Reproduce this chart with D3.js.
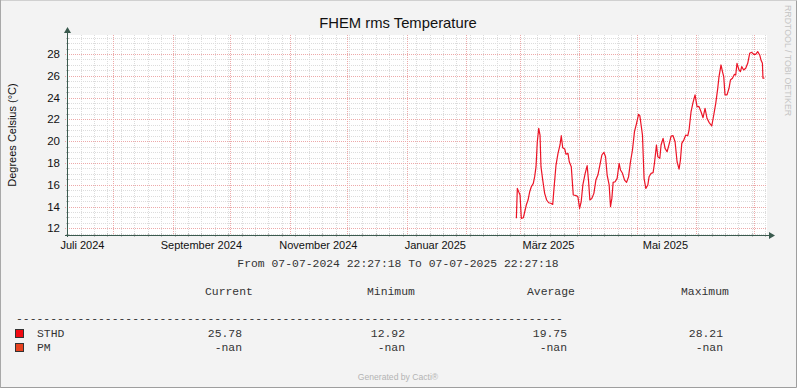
<!DOCTYPE html>
<html>
<head>
<meta charset="utf-8">
<script src="https://cdn.jsdelivr.net/npm/d3@7"></script>
<style>
body { margin: 0; background: #f3f3f3; }
svg { display: block; }
</style>
</head>
<body>
<div id="chart"></div>
<script>
// STHD temperature (UTC hours)
const times = [
  "2025-02-27T06","2025-02-27T18","2025-02-28T19","2025-03-01T04","2025-03-01T20","2025-03-02T21",
  "2025-03-03T14","2025-03-04T10","2025-03-05T08","2025-03-06T05","2025-03-07T01","2025-03-08T02",
  "2025-03-08T19","2025-03-09T12","2025-03-10T04","2025-03-10T22","2025-03-11T14","2025-03-12T02",
  "2025-03-13T00","2025-03-14T00","2025-03-15T01","2025-03-16T02","2025-03-17T04","2025-03-18T05",
  "2025-03-18T21","2025-03-19T22","2025-03-20T23","2025-03-22T00","2025-03-22T16","2025-03-23T10",
  "2025-03-24T11","2025-03-25T03","2025-03-26T04","2025-03-26T20","2025-03-27T21","2025-03-28T22",
  "2025-03-30T12","2025-03-31T08","2025-04-01T05","2025-04-02T01","2025-04-02T22","2025-04-04T03",
  "2025-04-05T04","2025-04-05T22","2025-04-06T14","2025-04-07T15","2025-04-08T16","2025-04-09T17",
  "2025-04-10T18","2025-04-11T19","2025-04-12T20","2025-04-13T21","2025-04-14T18","2025-04-15T14",
  "2025-04-16T15","2025-04-17T08","2025-04-18T01","2025-04-18T17","2025-04-19T18","2025-04-20T19",
  "2025-04-21T20","2025-04-22T13","2025-04-23T14","2025-04-24T16","2025-04-25T17","2025-04-26T18",
  "2025-04-27T18","2025-04-28T19","2025-04-29T20","2025-04-30T22","2025-05-01T23","2025-05-02T15",
  "2025-05-03T07","2025-05-04T00","2025-05-04T20","2025-05-05T18","2025-05-06T19","2025-05-07T11",
  "2025-05-08T12","2025-05-09T13","2025-05-10T06","2025-05-11T07","2025-05-12T00","2025-05-13T01",
  "2025-05-13T17","2025-05-14T18","2025-05-15T19","2025-05-16T20","2025-05-17T21","2025-05-18T22",
  "2025-05-19T23","2025-05-21T00","2025-05-22T01","2025-05-23T02","2025-05-23T19","2025-05-24T12",
  "2025-05-25T13","2025-05-26T14","2025-05-27T15","2025-05-28T07","2025-05-29T08","2025-05-30T09",
  "2025-05-31T10","2025-06-01T11","2025-06-02T12","2025-06-03T13","2025-06-04T14","2025-06-05T15",
  "2025-06-06T16","2025-06-07T17","2025-06-09T03","2025-06-10T04","2025-06-11T05","2025-06-12T06",
  "2025-06-12T22","2025-06-13T23","2025-06-14T17","2025-06-15T09","2025-06-16T01","2025-06-17T02",
  "2025-06-18T03","2025-06-18T21","2025-06-19T22","2025-06-20T23","2025-06-21T15","2025-06-22T07",
  "2025-06-23T08","2025-06-24T02","2025-06-24T18","2025-06-25T19","2025-06-26T20","2025-06-27T21",
  "2025-06-28T22","2025-06-29T23","2025-07-01T00","2025-07-02T01","2025-07-03T02","2025-07-04T03",
  "2025-07-04T19","2025-07-05T13","2025-07-05T20","2025-07-06T14"
];
const temps = [
  12.92,15.67,15.21,15.06,12.92,12.97,
  13.5,14.14,14.6,15.36,15.82,16.13,
  16.74,17.66,19.95,21.18,20.56,17.66,
  16.43,15.21,14.6,14.35,14.3,14.2,
  15.67,17.81,18.88,19.65,20.5,19.4,
  19.28,18.8,18.88,18.11,17.66,15.06,
  15.0,14.9,13.84,14.44,15.98,17.05,
  17.75,16.28,14.6,14.75,15.21,16.43,
  16.89,17.81,18.73,18.98,18.57,16.89,
  15.98,13.99,14.75,16.22,16.28,16.59,
  17.97,17.35,17.05,16.43,16.22,16.74,
  18.11,19.19,20.87,21.64,22.46,22.34,
  21.48,20.56,16.59,15.67,15.98,16.74,
  17.05,17.11,17.97,19.65,18.57,18.43,
  19.65,20.26,19.34,19.03,19.71,20.47,
  20.5,19.95,18.11,17.44,18.27,19.8,
  20.1,20.56,20.5,21.02,22.7,23.56,
  24.24,23.16,23.16,22.7,22.15,23.01,
  22.09,21.73,21.39,22.4,23.47,24.85,
  25.92,26.99,26.38,25.92,24.24,24.24,
  24.85,25.61,25.77,26.13,26.07,27.14,
  26.53,26.38,26.84,26.53,26.69,27.14,
  28.06,28.15,27.97,27.97,28.21,27.91,
  27.45,27.14,25.77,25.78
];

const rangeStart = "2024-07-07 22:27:18";
const rangeEnd = "2025-07-07 22:27:18";

const xLabelDates = ["2024-07-16", "2024-09-16", "2024-11-16", "2025-01-16", "2025-03-16", "2025-05-16"];
const xLabels = ["Juli 2024", "September 2024", "November 2024", "Januar 2025", "März 2025", "Mai 2025"];
const yMajor = [12, 14, 16, 18, 20, 22, 24, 26, 28];

const legendNames = ["STHD", "PM"];
const legendColors = ["#f20a12", "#e8421f"];
const statCurrent = ["25.78", "-nan"];
const statMinimum = ["12.92", "-nan"];
const statAverage = ["19.75", "-nan"];
const statMaximum = ["28.21", "-nan"];

const W = 797, H = 388;
const pL = 67, pR = 767, pT = 35, pB = 235;
const lineColor = "#ec1426";

const parseT = d3.utcParse("%Y-%m-%dT%H");
const parseR = d3.utcParse("%Y-%m-%d %H:%M:%S");
const parseD = d3.utcParse("%Y-%m-%d");

const data = times.map((t, i) => ({ t: parseT(t), v: temps[i] }));

const x = d3.scaleUtc()
    .domain([parseR(rangeStart), parseR(rangeEnd)])
    .range([pL, pR]);
const y = d3.scaleLinear()
    .domain([11.39, 29.74])
    .range([pB, pT]);

const svg = d3.select("#chart").append("svg")
    .attr("width", W)
    .attr("height", H)
    .style("font-family", "'Liberation Sans', Arial, sans-serif");

// background + frame
svg.append("rect").attr("width", W).attr("height", H).attr("fill", "#f3f3f3");
svg.append("path").attr("d", `M0.5,${H - 0.5}V0.5H${W - 0.5}`).attr("fill", "none").attr("stroke", "#d0d0d0");
svg.append("path").attr("d", `M0.5,${H - 0.5}H${W - 0.5}V0.5`).attr("fill", "none").attr("stroke", "#9e9e9e");
svg.append("line").attr("x1", 0.5).attr("x2", 0.5).attr("y1", 0).attr("y2", H).attr("stroke", "#a8a8a8");

// plot canvas
svg.append("rect")
    .attr("x", pL).attr("y", pT)
    .attr("width", pR - pL).attr("height", pB - pT)
    .attr("fill", "#ffffff");

const grid = svg.append("g").attr("shape-rendering", "crispEdges");
const [d0, d1] = x.domain();

// minor grid: weekly / every 0.5 degree
const weeks = d3.utcMonday.range(d0, d1);
grid.selectAll(".vminor").data(weeks).enter().append("line")
    .attr("x1", d => Math.round(x(d)) + 0.5).attr("x2", d => Math.round(x(d)) + 0.5)
    .attr("y1", pT).attr("y2", pB)
    .attr("stroke", "#dcdcdc").attr("stroke-dasharray", "1,1");
const yMinor = d3.range(11.5, 29.75, 0.5).filter(v => !yMajor.includes(v));
grid.selectAll(".hminor").data(yMinor).enter().append("line")
    .attr("x1", pL).attr("x2", pR)
    .attr("y1", d => Math.round(y(d)) + 0.5).attr("y2", d => Math.round(y(d)) + 0.5)
    .attr("stroke", "#dcdcdc").attr("stroke-dasharray", "1,1");

// major grid: months / every 2 degrees
const months = d3.utcMonth.range(d0, d1);
grid.selectAll(".vmajor").data(months).enter().append("line")
    .attr("x1", d => Math.round(x(d)) + 0.5).attr("x2", d => Math.round(x(d)) + 0.5)
    .attr("y1", pT).attr("y2", pB + 2)
    .attr("stroke", "#eda9a9").attr("stroke-dasharray", "1,1");
grid.selectAll(".hmajor").data(yMajor).enter().append("line")
    .attr("x1", pL - 2).attr("x2", pR)
    .attr("y1", d => Math.round(y(d)) + 0.5).attr("y2", d => Math.round(y(d)) + 0.5)
    .attr("stroke", "#eda9a9").attr("stroke-dasharray", "1,1");

// small ticks on the axes
grid.selectAll(".xt").data(weeks).enter().append("line")
    .attr("x1", d => Math.round(x(d)) + 0.5).attr("x2", d => Math.round(x(d)) + 0.5)
    .attr("y1", pB - 2).attr("y2", pB + 2)
    .attr("stroke", "#c0c0c0");
grid.selectAll(".yt").data(yMinor).enter().append("line")
    .attr("x1", pL - 1).attr("x2", pL + 2)
    .attr("y1", d => Math.round(y(d)) + 0.5).attr("y2", d => Math.round(y(d)) + 0.5)
    .attr("stroke", "#c0c0c0");

// data line
const line = d3.line().x(d => x(d.t)).y(d => y(d.v));
svg.append("path")
    .datum(data)
    .attr("d", line)
    .attr("fill", "none")
    .attr("stroke", lineColor)
    .attr("stroke-width", 1.2)
    .attr("stroke-linejoin", "round");

// axes with arrows
const axisColor = "#3a5a4e";
svg.append("line").attr("x1", pL + 0.5).attr("x2", pL + 0.5).attr("y1", pB + 2).attr("y2", pT - 2)
    .attr("stroke", axisColor).attr("shape-rendering", "crispEdges");
svg.append("line").attr("x1", pL - 2).attr("x2", pR + 3).attr("y1", pB + 0.5).attr("y2", pB + 0.5)
    .attr("stroke", axisColor).attr("shape-rendering", "crispEdges");
svg.append("path").attr("d", `M${pL - 3},${pT - 2}L${pL + 4},${pT - 2}L${pL + 0.5},${pT - 8}Z`).attr("fill", axisColor);
svg.append("path").attr("d", `M${pR + 2},${pB - 3}L${pR + 2},${pB + 4}L${pR + 8},${pB + 0.5}Z`).attr("fill", axisColor);

// axis labels
svg.append("g").selectAll("text").data(yMajor).enter().append("text")
    .attr("x", 60).attr("y", d => y(d) + 4)
    .attr("text-anchor", "end")
    .style("font-size", "11.5px").attr("fill", "#111")
    .text(d => d);
svg.append("g").selectAll("text").data(xLabelDates).enter().append("text")
    .attr("x", d => x(parseD(d))).attr("y", 249)
    .attr("text-anchor", "middle")
    .style("font-size", "11px").attr("fill", "#111")
    .text((d, i) => xLabels[i]);

// titles
svg.append("text").attr("x", 398).attr("y", 27.5).attr("text-anchor", "middle")
    .style("font-size", "14.8px").attr("fill", "#111").text("FHEM rms Temperature");
svg.append("text").attr("transform", "translate(16,135) rotate(-90)").attr("text-anchor", "middle")
    .style("font-size", "11px").attr("fill", "#111").text("Degrees Celsius (°C)");
svg.append("text").attr("transform", "translate(785,5) rotate(90)").attr("text-anchor", "start")
    .style("font-size", "8.8px").attr("fill", "#c4c4c4").text("RRDTOOL / TOBI OETIKER");
svg.append("text").attr("x", 398).attr("y", 380).attr("text-anchor", "middle")
    .style("font-size", "8.6px").attr("fill", "#b4b4b4").text("Generated by Cacti®");

// legend (monospace)
const mono = svg.append("g")
    .style("font-family", "'Liberation Mono', 'Courier New', monospace")
    .style("font-size", "11.4px").attr("fill", "#333");
mono.append("text").attr("x", 398).attr("y", 267).attr("text-anchor", "middle")
    .text(`From ${d3.utcFormat("%d-%m-%Y %H:%M:%S")(parseR(rangeStart))} To ${d3.utcFormat("%d-%m-%Y %H:%M:%S")(parseR(rangeEnd))}`);

const headers = ["Current", "Minimum", "Average", "Maximum"];
const colRight = [242, 405, 567, 723];
const headerX = [205, 367, 527, 681];
mono.selectAll(".hdr").data(headers).enter().append("text")
    .attr("x", (d, i) => headerX[i]).attr("y", 295).text(d => d);
mono.append("text").attr("x", 16).attr("y", 321.5).text("-".repeat(80));

const stats = [statCurrent, statMinimum, statAverage, statMaximum];
legendNames.forEach((name, r) => {
    const by = 337 + r * 14;
    svg.append("rect").attr("x", 15.5).attr("y", by - 7.5).attr("width", 8).attr("height", 8)
        .attr("fill", legendColors[r]).attr("stroke", "#333").attr("shape-rendering", "crispEdges");
    mono.append("text").attr("x", 37).attr("y", by).text(name);
    stats.forEach((col, c) => {
        mono.append("text").attr("x", colRight[c]).attr("y", by).attr("text-anchor", "end")
            .text(col[r]);
    });
});
</script>
</body>
</html>
